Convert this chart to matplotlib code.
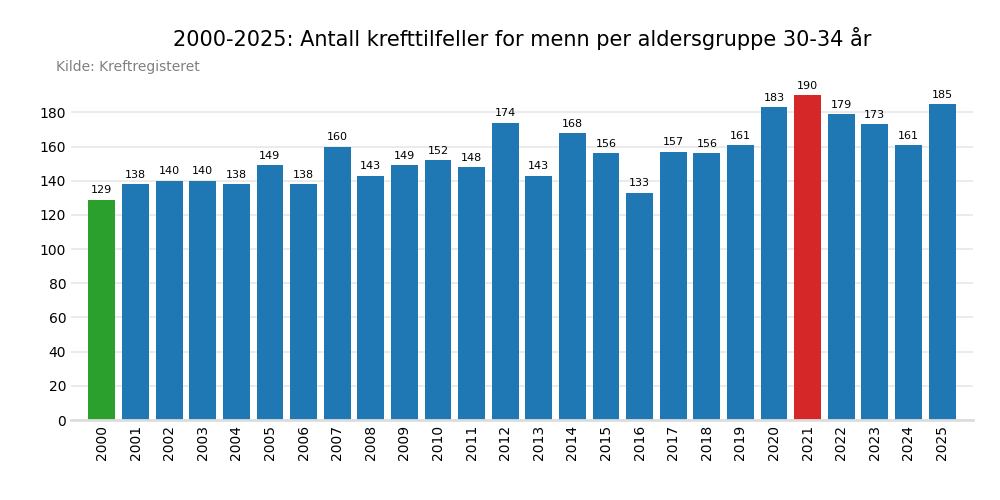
import matplotlib.pyplot as plt
import numpy as np

years = [str(y) for y in range(2000, 2026)]
cases = [129, 138, 140, 140, 138, 149, 138, 160, 143, 149, 152, 148, 174, 143,
         168, 156, 133, 157, 156, 161, 183, 190, 179, 173, 161, 185]

# lowest year green, highest red, rest blue
colors = ['#1f77b4'] * len(cases)
colors[int(np.argmin(cases))] = '#2ca02c'
colors[int(np.argmax(cases))] = '#d62728'

fig, ax = plt.subplots(figsize=(10, 5), dpi=100)
fig.subplots_adjust(left=0.071, right=0.973, top=0.842, bottom=0.16)

x = np.arange(len(years))
bars = ax.bar(x, cases, width=0.8, color=colors, zorder=2)
for xi, v in zip(x, cases):
    ax.text(xi, v + 2.5, str(v), ha='center', va='bottom', fontsize=8)

ax.set_xticks(x)
ax.set_xticklabels(years, rotation=90, fontsize=10)
ax.tick_params(axis='y', labelsize=10)
ax.tick_params(length=0)
ax.set_ylim(0, 199.5)
ax.set_yticks(range(0, 181, 20))
ax.set_xlim(-0.92, len(years) - 0.08)
ax.yaxis.grid(True, color='#e8e8e8', linewidth=1.2, zorder=0)
for s in ['top', 'right', 'left']:
    ax.spines[s].set_visible(False)
ax.spines['bottom'].set_color('#dddddd')
ax.spines['bottom'].set_linewidth(2)

fig.text(0.522, 0.924, '2000-2025: Antall krefttilfeller for menn per aldersgruppe 30-34 år',
         ha='center', va='center', fontsize=15)
fig.text(0.056, 0.866, 'Kilde: Kreftregisteret', ha='left', va='center', fontsize=10, color='gray')

fig.savefig('out.png')
